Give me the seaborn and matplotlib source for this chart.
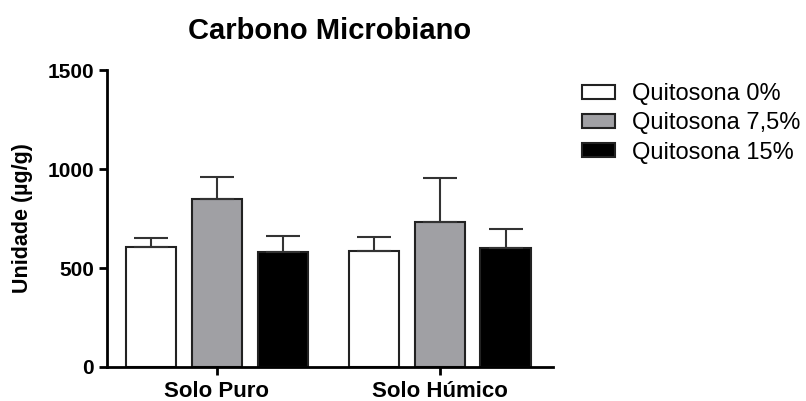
import pandas as pd
import matplotlib.pyplot as plt
import seaborn as sns
from matplotlib.patches import Patch

# Values
solos = ['Solo Puro', 'Solo Húmico']
tratamentos = ['Quitosona 0%', 'Quitosona 7,5%', 'Quitosona 15%']
medias = {
    'Quitosona 0%': [606, 584],
    'Quitosona 7,5%': [850, 734],
    'Quitosona 15%': [581, 601],
}
erros = {
    'Quitosona 0%': [45, 71],
    'Quitosona 7,5%': [111, 219],
    'Quitosona 15%': [81, 94],
}
cores = ['white', '#a0a0a4', 'black']

rows = []
for t in tratamentos:
    for i, s in enumerate(solos):
        rows.append({'Solo': s, 'Tratamento': t, 'Valor': medias[t][i], 'Erro': erros[t][i]})
df = pd.DataFrame(rows)

sns.set_style('ticks')
plt.rcParams['font.family'] = ['Liberation Sans', 'DejaVu Sans']
plt.rcParams['text.color'] = 'black'

fig = plt.figure(figsize=(8.06, 4.01), dpi=100)
ax = fig.add_axes([0.1328, 0.0848, 0.553, 0.7406])

sns.barplot(data=df, x='Solo', y='Valor', hue='Tratamento', order=solos,
            hue_order=tratamentos, palette=cores, width=0.885, gap=0.237,
            errorbar=None, edgecolor='#222222', linewidth=1.5, ax=ax, legend=False)

# one-sided (upper) error bars on top of each bar
for j, t in enumerate(tratamentos):
    for i, s in enumerate(solos):
        p = ax.patches[j * len(solos) + i]
        xc = p.get_x() + p.get_width() / 2
        ax.errorbar(xc, p.get_height(), yerr=[[0], [erros[t][i]]], fmt='none',
                    ecolor='#333333', elinewidth=1.5, capsize=12.5, capthick=1.5)

ax.set_xlim(-0.493, 1.507)
ax.set_ylim(0, 1500)
ax.set_yticks([0, 500, 1000, 1500])
ax.set_xlabel('')
ax.set_ylabel('Unidade (µg/g)', fontsize=15.5, fontweight='bold', labelpad=10, color='black')
ax.set_title('Carbono Microbiano', fontsize=21, fontweight='bold', pad=22, color='black')
for sp in ['top', 'right']:
    ax.spines[sp].set_visible(False)
for sp in ['left', 'bottom']:
    ax.spines[sp].set_linewidth(2)
    ax.spines[sp].set_color('black')
ax.tick_params(axis='both', width=2, length=6, colors='black')
ax.tick_params(axis='y', labelsize=15)
ax.tick_params(axis='x', labelsize=16, pad=4)
for lab in ax.get_xticklabels() + ax.get_yticklabels():
    lab.set_fontweight('bold')

handles = [Patch(facecolor=c, edgecolor='#222222', linewidth=1.5) for c in cores]
fig.legend(handles, tratamentos, loc='upper left', bbox_to_anchor=(0.696, 0.845),
           frameon=False, fontsize=17, handlelength=1.4, handleheight=0.5,
           handletextpad=0.7, labelspacing=0.3, labelcolor='black')

fig.savefig('out.png', dpi=100)
